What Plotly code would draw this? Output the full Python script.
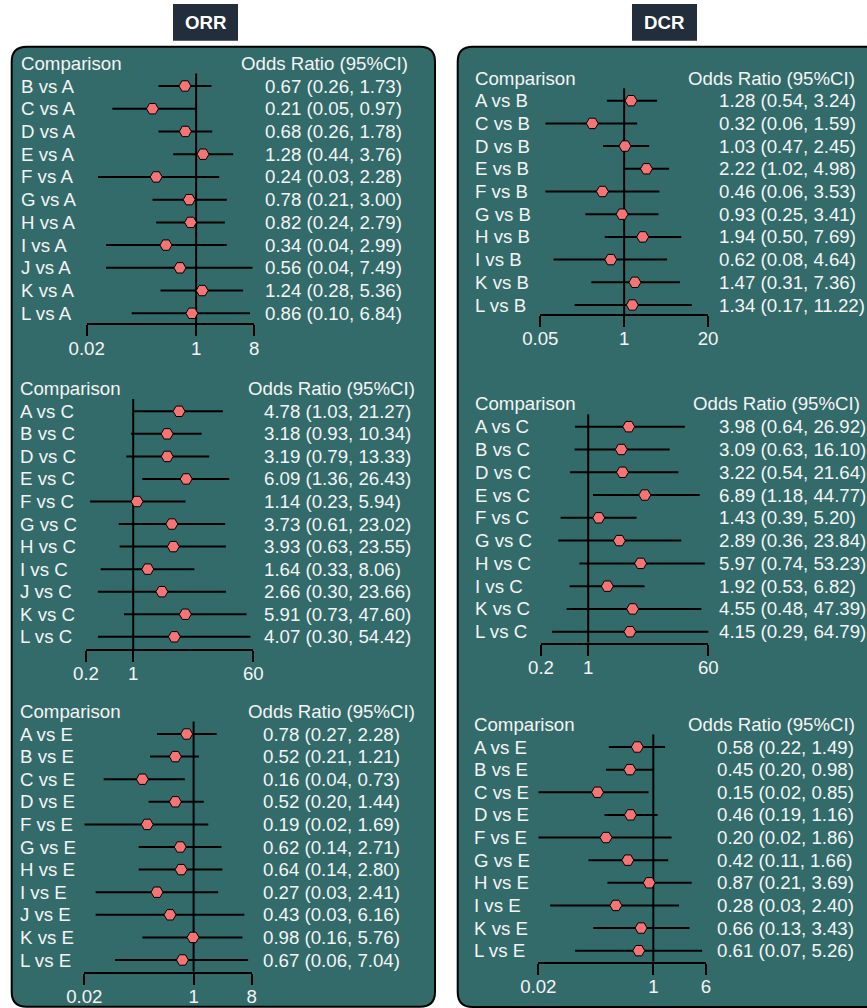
import math
import plotly.graph_objects as go

# ---------------- data ----------------
orr_a_labels = ["B vs A", "C vs A", "D vs A", "E vs A", "F vs A", "G vs A",
                "H vs A", "I vs A", "J vs A", "K vs A", "L vs A"]
orr_a_or = [0.67, 0.21, 0.68, 1.28, 0.24, 0.78, 0.82, 0.34, 0.56, 1.24, 0.86]
orr_a_lo = [0.26, 0.05, 0.26, 0.44, 0.03, 0.21, 0.24, 0.04, 0.04, 0.28, 0.10]
orr_a_hi = [1.73, 0.97, 1.78, 3.76, 2.28, 3.00, 2.79, 2.99, 7.49, 5.36, 6.84]
orr_a_ticks = [0.02, 1, 8]

orr_c_labels = ["A vs C", "B vs C", "D vs C", "E vs C", "F vs C", "G vs C",
                "H vs C", "I vs C", "J vs C", "K vs C", "L vs C"]
orr_c_or = [4.78, 3.18, 3.19, 6.09, 1.14, 3.73, 3.93, 1.64, 2.66, 5.91, 4.07]
orr_c_lo = [1.03, 0.93, 0.79, 1.36, 0.23, 0.61, 0.63, 0.33, 0.30, 0.73, 0.30]
orr_c_hi = [21.27, 10.34, 13.33, 26.43, 5.94, 23.02, 23.55, 8.06, 23.66, 47.60, 54.42]
orr_c_ticks = [0.2, 1, 60]

orr_e_labels = ["A vs E", "B vs E", "C vs E", "D vs E", "F vs E", "G vs E",
                "H vs E", "I vs E", "J vs E", "K vs E", "L vs E"]
orr_e_or = [0.78, 0.52, 0.16, 0.52, 0.19, 0.62, 0.64, 0.27, 0.43, 0.98, 0.67]
orr_e_lo = [0.27, 0.21, 0.04, 0.20, 0.02, 0.14, 0.14, 0.03, 0.03, 0.16, 0.06]
orr_e_hi = [2.28, 1.21, 0.73, 1.44, 1.69, 2.71, 2.80, 2.41, 6.16, 5.76, 7.04]
orr_e_ticks = [0.02, 1, 8]

dcr_b_labels = ["A vs B", "C vs B", "D vs B", "E vs B", "F vs B", "G vs B",
                "H vs B", "I vs B", "K vs B", "L vs B"]
dcr_b_or = [1.28, 0.32, 1.03, 2.22, 0.46, 0.93, 1.94, 0.62, 1.47, 1.34]
dcr_b_lo = [0.54, 0.06, 0.47, 1.02, 0.06, 0.25, 0.50, 0.08, 0.31, 0.17]
dcr_b_hi = [3.24, 1.59, 2.45, 4.98, 3.53, 3.41, 7.69, 4.64, 7.36, 11.22]
dcr_b_ticks = [0.05, 1, 20]

dcr_c_labels = ["A vs C", "B vs C", "D vs C", "E vs C", "F vs C", "G vs C",
                "H vs C", "I vs C", "K vs C", "L vs C"]
dcr_c_or = [3.98, 3.09, 3.22, 6.89, 1.43, 2.89, 5.97, 1.92, 4.55, 4.15]
dcr_c_lo = [0.64, 0.63, 0.54, 1.18, 0.39, 0.36, 0.74, 0.53, 0.48, 0.29]
dcr_c_hi = [26.92, 16.10, 21.64, 44.77, 5.20, 23.84, 53.23, 6.82, 47.39, 64.79]
dcr_c_ticks = [0.2, 1, 60]

dcr_e_labels = ["A vs E", "B vs E", "C vs E", "D vs E", "F vs E", "G vs E",
                "H vs E", "I vs E", "K vs E", "L vs E"]
dcr_e_or = [0.58, 0.45, 0.15, 0.46, 0.20, 0.42, 0.87, 0.28, 0.66, 0.61]
dcr_e_lo = [0.22, 0.20, 0.02, 0.19, 0.02, 0.11, 0.21, 0.03, 0.13, 0.07]
dcr_e_hi = [1.49, 0.98, 0.85, 1.16, 1.86, 1.66, 3.69, 2.40, 3.43, 5.26]
dcr_e_ticks = [0.02, 1, 6]

panel_titles = ["ORR", "DCR"]
col_headers = ["Comparison", "Odds Ratio (95%CI)"]

# ---------------- layout constants (pixels) ----------------
W, H = 867, 1008
FONT = "Liberation Sans, Arial, sans-serif"
TXT = "#F4F4F4"
PANEL = "#336B6B"
TITLE_BG = "#222E3C"
MARK = "#F87474"
FS = 18.67


def fx(p):
    return p / W


def fy(p):
    return 1 - p / H


# per forest: x-axis pixel span, first-row centre, row height, axis line,
# x of the label column, header of value column, value column
plots = [
    dict(lab=orr_a_labels, est=orr_a_or, lo=orr_a_lo, hi=orr_a_hi, ticks=orr_a_ticks,
         x0=86.7, x1=254.3, row0=86.0, rh=22.73, axis=323.3,
         lx=19.0, hx=239.0, vx=263.3),
    dict(lab=orr_c_labels, est=orr_c_or, lo=orr_c_lo, hi=orr_c_hi, ticks=orr_c_ticks,
         x0=86.0, x1=253.3, row0=411.3, rh=22.55, axis=649.0,
         lx=17.5, hx=245.7, vx=262.3),
    dict(lab=orr_e_labels, est=orr_e_or, lo=orr_e_lo, hi=orr_e_hi, ticks=orr_e_ticks,
         x0=84.3, x1=251.7, row0=734.0, rh=22.6, axis=971.7,
         lx=17.5, hx=245.7, vx=260.7),
    dict(lab=dcr_b_labels, est=dcr_b_or, lo=dcr_b_lo, hi=dcr_b_hi, ticks=dcr_b_ticks,
         x0=540.3, x1=708.0, row0=100.7, rh=22.7, axis=314.0,
         lx=472.5, hx=685.7, vx=717.3),
    dict(lab=dcr_c_labels, est=dcr_c_or, lo=dcr_c_lo, hi=dcr_c_hi, ticks=dcr_c_ticks,
         x0=541.0, x1=708.3, row0=426.7, rh=22.78, axis=642.7,
         lx=472.5, hx=691.3, vx=717.3),
    dict(lab=dcr_e_labels, est=dcr_e_or, lo=dcr_e_lo, hi=dcr_e_hi, ticks=dcr_e_ticks,
         x0=538.3, x1=706.0, row0=747.0, rh=22.63, axis=961.7,
         lx=471.5, hx=685.7, vx=715.0),
]

fig = go.Figure()
annotations = []
shapes = []


def rounded_rect(x0, y0, x1, y1, r):
    # path in paper coordinates built from pixel corners
    pts = [
        f"M {fx(x0 + r)},{fy(y0)}",
        f"L {fx(x1 - r)},{fy(y0)}",
        f"Q {fx(x1)},{fy(y0)} {fx(x1)},{fy(y0 + r)}",
        f"L {fx(x1)},{fy(y1 - r)}",
        f"Q {fx(x1)},{fy(y1)} {fx(x1 - r)},{fy(y1)}",
        f"L {fx(x0 + r)},{fy(y1)}",
        f"Q {fx(x0)},{fy(y1)} {fx(x0)},{fy(y1 - r)}",
        f"L {fx(x0)},{fy(y0 + r)}",
        f"Q {fx(x0)},{fy(y0)} {fx(x0 + r)},{fy(y0)}",
        "Z",
    ]
    return " ".join(pts)


# panel backgrounds
for (x0, y0, x1, y1) in [(11.7, 46.7, 435.0, 1006.7), (457.7, 46.7, 900.0, 1007.0)]:
    shapes.append(dict(type="path", path=rounded_rect(x0, y0, x1, y1, 15),
                       xref="paper", yref="paper", fillcolor=PANEL,
                       line=dict(color="black", width=2), layer="below"))

# panel titles
for title, (bx0, bx1) in zip(panel_titles, [(173.0, 238.0), (632.0, 697.0)]):
    shapes.append(dict(type="rect", xref="paper", yref="paper",
                       x0=fx(bx0), x1=fx(bx1), y0=fy(40.7), y1=fy(4.0),
                       fillcolor=TITLE_BG, line=dict(width=0), layer="below"))
    annotations.append(dict(text=f"<b>{title}</b>", xref="paper", yref="paper",
                            x=fx((bx0 + bx1) / 2), y=fy(22.5), showarrow=False,
                            xanchor="center", yanchor="middle",
                            font=dict(family=FONT, size=FS, color="white")))

for k, p in enumerate(plots, start=1):
    n = len(p["lab"])
    rows = list(range(n))
    bottom = (p["axis"] - p["row0"]) / p["rh"]          # row value at axis line
    top_row = -1.6                                       # leaves room for the header row
    top_px = p["row0"] + top_row * p["rh"]
    xa = "x" if k == 1 else f"x{k}"
    ya = "y" if k == 1 else f"y{k}"
    lo_t, hi_t = min(p["ticks"]), max(p["ticks"])

    fig.update_layout({
        f"xaxis{'' if k == 1 else k}": dict(
            type="log", domain=[fx(p["x0"]), fx(p["x1"])],
            range=[math.log10(lo_t), math.log10(hi_t)],
            anchor=ya, showgrid=False, zeroline=False,
            showline=True, linecolor="black", linewidth=2,
            ticks="outside", ticklen=11, tickwidth=2, tickcolor="black",
            tickvals=p["ticks"], ticktext=[f"{t:g}" for t in p["ticks"]],
            ticklabelstandoff=-4,
            tickfont=dict(family=FONT, size=FS, color=TXT),
            fixedrange=True),
        f"yaxis{'' if k == 1 else k}": dict(
            domain=[fy(p["axis"]), fy(top_px)],
            range=[bottom, top_row], anchor=xa,
            showgrid=False, zeroline=False, showline=False,
            showticklabels=False, ticks="", fixedrange=True),
    })

    # reference line at OR = 1
    fig.add_trace(go.Scatter(x=[1, 1], y=[-0.55, bottom], xaxis=xa, yaxis=ya,
                             mode="lines", line=dict(color="black", width=2),
                             hoverinfo="skip", showlegend=False))
    # confidence intervals
    cx, cy = [], []
    for i in rows:
        cx += [p["lo"][i], p["hi"][i], None]
        cy += [i, i, None]
    fig.add_trace(go.Scatter(x=cx, y=cy, xaxis=xa, yaxis=ya, mode="lines",
                             line=dict(color="black", width=2),
                             hoverinfo="skip", showlegend=False))
    # point estimates
    fig.add_trace(go.Scatter(x=p["est"], y=rows, xaxis=xa, yaxis=ya,
                             mode="markers", cliponaxis=False,
                             marker=dict(symbol="hexagon2", size=12, color=MARK,
                                         line=dict(color="black", width=1)),
                             showlegend=False))

    # column headers
    annotations.append(dict(text=col_headers[0], xref="paper", yref=ya,
                            x=fx(p["lx"]), y=-1, xanchor="left", yanchor="middle",
                            showarrow=False, font=dict(family=FONT, size=FS, color=TXT)))
    annotations.append(dict(text=col_headers[1], xref="paper", yref=ya,
                            x=fx(p["hx"]), y=-1, xanchor="left", yanchor="middle",
                            showarrow=False, font=dict(family=FONT, size=FS, color=TXT)))
    # row texts
    for i in rows:
        annotations.append(dict(text=p["lab"][i], xref="paper", yref=ya,
                                x=fx(p["lx"]), y=i, xanchor="left", yanchor="middle",
                                showarrow=False,
                                font=dict(family=FONT, size=FS, color=TXT)))
        val = f"{p['est'][i]:.2f} ({p['lo'][i]:.2f}, {p['hi'][i]:.2f})"
        annotations.append(dict(text=val, xref="paper", yref=ya,
                                x=fx(p["vx"]), y=i, xanchor="left", yanchor="middle",
                                showarrow=False,
                                font=dict(family=FONT, size=FS, color=TXT)))

fig.update_layout(width=W, height=H,
                  margin=dict(l=0, r=0, t=0, b=0, autoexpand=False),
                  paper_bgcolor="white", plot_bgcolor="rgba(0,0,0,0)",
                  shapes=shapes, annotations=annotations, showlegend=False,
                  font=dict(family=FONT, size=FS, color=TXT))

fig.write_html("out.html")
